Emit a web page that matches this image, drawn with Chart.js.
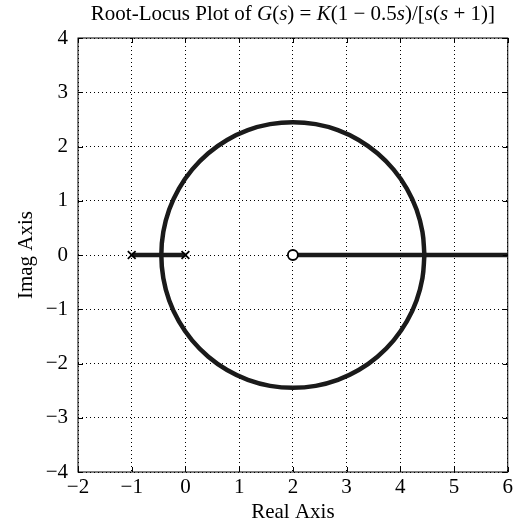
<!DOCTYPE html>
<html>
<head>
<meta charset="utf-8">
<script src="https://cdn.jsdelivr.net/npm/chart.js@4"></script>
<style>
  html, body { margin: 0; padding: 0; background: #fff; }
  #wrap { width: 516px; height: 523px; }
</style>
</head>
<body>
<div id="wrap"><canvas id="locus"></canvas></div>
<script>
// Root locus values (real part, imaginary part)
const circleRe = [4.449, 4.412, 4.302, 4.121, 3.876, 3.574, 3.225, 2.838, 2.425, 2.0,
                  1.575, 1.162, 0.775, 0.426, 0.124, -0.121, -0.302, -0.412, -0.449,
                  -0.412, -0.302, -0.121, 0.124, 0.426, 0.775, 1.162, 1.575, 2.0,
                  2.425, 2.838, 3.225, 3.574, 3.876, 4.121, 4.302, 4.412, 4.449];
const circleIm = [0, 0.425, 0.838, 1.225, 1.574, 1.876, 2.121, 2.302, 2.412, 2.449,
                  2.412, 2.302, 2.121, 1.876, 1.574, 1.225, 0.838, 0.425, 0,
                  -0.425, -0.838, -1.225, -1.574, -1.876, -2.121, -2.302, -2.412, -2.449,
                  -2.412, -2.302, -2.121, -1.876, -1.574, -1.225, -0.838, -0.425, 0];
const branchLeftRe = [-1, -0.449, 0];     // poles meet at the breakaway point
const branchRightRe = [2.05, 6];          // from the zero out along the real axis
const polesRe = [-1, 0];
const zerosRe = [2];
const xTicks = [-2, -1, 0, 1, 2, 3, 4, 5, 6];
const yTicks = [-4, -3, -2, -1, 0, 1, 2, 3, 4];

const FONT = 'Liberation Serif';
const FONT_SIZE = 21;
const toPts = (re, im) => re.map((r, i) => ({x: r, y: im ? im[i] : 0}));

// title with italic parts, centred over the plot area
const titleParts = [
    ['Root-Locus Plot of ', false], ['G', true], ['(', false], ['s', true], [') = ', false],
    ['K', true], ['(1 \u2212 0.5', false], ['s', true], [')/[', false], ['s', true],
    ['(', false], ['s', true], [' + 1)]', false]
];

const boxPlugin = {
    id: 'box',
    afterDraw(chart) {
        const ctx = chart.ctx;
        const a = chart.chartArea;
        ctx.save();
        ctx.strokeStyle = '#000';
        ctx.lineWidth = 1;
        ctx.strokeRect(a.left, a.top, a.right - a.left, a.bottom - a.top);
        // short inward ticks on all four sides
        ctx.beginPath();
        xTicks.forEach(v => {
            const px = Math.round(chart.scales.x.getPixelForValue(v)) + 0.5;
            ctx.moveTo(px, a.bottom); ctx.lineTo(px, a.bottom - 5);
            ctx.moveTo(px, a.top); ctx.lineTo(px, a.top + 5);
        });
        yTicks.forEach(v => {
            const py = Math.round(chart.scales.y.getPixelForValue(v)) + 0.5;
            ctx.moveTo(a.left, py); ctx.lineTo(a.left + 5, py);
            ctx.moveTo(a.right, py); ctx.lineTo(a.right - 5, py);
        });
        ctx.stroke();

        // title
        let total = 0;
        titleParts.forEach(p => {
            ctx.font = (p[1] ? 'italic ' : '') + FONT_SIZE + 'px "' + FONT + '"';
            total += ctx.measureText(p[0]).width;
        });
        let x = (a.left + a.right) / 2 - total / 2;
        ctx.fillStyle = '#000';
        ctx.textBaseline = 'alphabetic';
        titleParts.forEach(p => {
            ctx.font = (p[1] ? 'italic ' : '') + FONT_SIZE + 'px "' + FONT + '"';
            ctx.fillText(p[0], x, 20);
            x += ctx.measureText(p[0]).width;
        });
        ctx.restore();
    }
};

new Chart(document.getElementById('locus'), {
    type: 'scatter',
    data: {
        datasets: [
            {
                label: 'zeros',
                data: toPts(zerosRe),
                pointStyle: 'circle',
                pointRadius: 5,
                backgroundColor: '#fff',
                borderColor: '#000',
                borderWidth: 1.8
            },
            {
                label: 'poles',
                data: toPts(polesRe),
                pointStyle: 'crossRot',
                pointRadius: 5.5,
                borderColor: '#000',
                borderWidth: 1.8
            },
            {
                label: 'circle',
                data: toPts(circleRe, circleIm),
                showLine: true,
                tension: 0.4,
                pointRadius: 0,
                borderColor: '#1a1a1a',
                borderWidth: 4.5
            },
            {
                label: 'left branch',
                data: toPts(branchLeftRe),
                showLine: true,
                pointRadius: 0,
                borderColor: '#1a1a1a',
                borderWidth: 4.5
            },
            {
                label: 'right branch',
                data: toPts(branchRightRe),
                showLine: true,
                pointRadius: 0,
                borderColor: '#1a1a1a',
                borderWidth: 4.5
            }
        ]
    },
    options: {
        responsive: true,
        maintainAspectRatio: false,
        animation: false,
        layout: { padding: { top: 38, right: 5, left: 0, bottom: 0 } },
        plugins: {
            legend: { display: false },
            tooltip: { enabled: false }
        },
        scales: {
            x: {
                min: -2, max: 6,
                afterBuildTicks: s => { s.ticks = xTicks.map(v => ({value: v})); },
                afterFit: s => { s.height = 51; },
                ticks: {
                    padding: 3,
                    color: '#000',
                    font: { family: FONT, size: FONT_SIZE },
                    callback: v => String(v).replace('-', '\u2212')
                },
                grid: { color: '#000', lineWidth: 1, drawTicks: false },
                border: { display: false, dash: [1, 3] },
                title: {
                    display: true, text: 'Real Axis', color: '#000',
                    font: { family: FONT, size: FONT_SIZE, lineHeight: 1.0 },
                    padding: { top: 0, bottom: 0 }
                }
            },
            y: {
                min: -4, max: 4,
                afterBuildTicks: s => { s.ticks = yTicks.map(v => ({value: v})); },
                afterFit: s => { s.width = 78; },
                ticks: {
                    padding: 10,
                    color: '#000',
                    font: { family: FONT, size: FONT_SIZE },
                    callback: v => String(v).replace('-', '\u2212')
                },
                grid: { color: '#000', lineWidth: 1, drawTicks: false },
                border: { display: false, dash: [1, 3] },
                title: {
                    display: true, text: 'Imag Axis', color: '#000',
                    font: { family: FONT, size: FONT_SIZE },
                    padding: { top: 14, bottom: 0 }
                }
            }
        }
    },
    plugins: [boxPlugin]
});
</script>
</body>
</html>
